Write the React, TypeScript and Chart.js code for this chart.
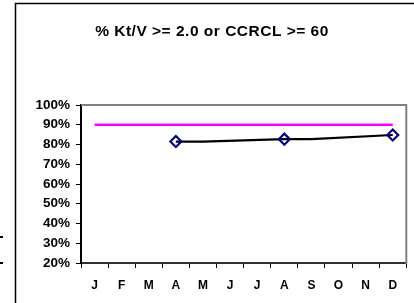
import React, { useEffect, useRef } from "react";
import { Chart, registerables } from "chart.js";

Chart.register(...registerables);

const TITLE = "% Kt/V >= 2.0 or CCRCL >= 60";
const MONTHS = ["J", "F", "M", "A", "M", "J", "J", "A", "S", "O", "N", "D"];
const TARGET = [90, 90, 90, 90, 90, 90, 90, 90, 90, 90, 90, 90];
const TREND = [null, null, null, 81.5, 81.5, null, null, 82.7, 82.7, null, null, 84.8];
const MEASURED = [null, null, null, 81.5, null, null, null, 82.7, null, null, null, 84.8];
const Y_MIN = 20;
const Y_MAX = 100;
const Y_STEP = 10;

const FONT = "Arial, 'Liberation Sans', sans-serif";

const decor = {
  id: "decor",
  afterDraw(chart: any) {
    const ctx = chart.ctx;
    const a = chart.chartArea;
    ctx.save();
    // plot frame top & right (gray)
    ctx.strokeStyle = "#808080";
    ctx.lineWidth = 2;
    ctx.beginPath();
    ctx.moveTo(a.left, a.top);
    ctx.lineTo(a.right, a.top);
    ctx.lineTo(a.right, a.bottom + 1);
    ctx.stroke();
    // outer chart border
    ctx.strokeStyle = "#000";
    ctx.lineWidth = 1.5;
    ctx.beginPath();
    ctx.moveTo(15.5, 303);
    ctx.lineTo(15.5, 3.5);
    ctx.lineTo(414, 3.5);
    ctx.stroke();
    // fragments at far left
    ctx.fillStyle = "#000";
    ctx.fillRect(0, 236, 3, 2);
    ctx.fillRect(0, 262, 3, 2);
    // title
    ctx.letterSpacing = "0.5px";
    ctx.font = "bold 15.5px " + FONT;
    ctx.textAlign = "center";
    ctx.textBaseline = "alphabetic";
    ctx.fillStyle = "#000";
    ctx.fillText(TITLE, 212, 35.5);
    ctx.restore();
  },
};

export default function App() {
  const ref = useRef<HTMLCanvasElement | null>(null);

  useEffect(() => {
    if (!ref.current) return;
    const chart = new Chart(ref.current, {
      type: "line",
      data: {
        labels: MONTHS,
        datasets: [
          {
            label: "Measured",
            data: MEASURED as any,
            showLine: false,
            pointStyle: "rectRot",
            pointRadius: 5.5,
            pointBorderColor: "#000080",
            pointBackgroundColor: "rgba(0,0,0,0)",
            pointBorderWidth: 2.2,
            borderColor: "#000080",
            clip: false as any,
          },
          {
            label: "Trend",
            data: TREND as any,
            spanGaps: true,
            borderColor: "#000",
            borderWidth: 2.2,
            pointRadius: 0,
            tension: 0,
            clip: false as any,
          },
          {
            label: "Target",
            data: TARGET,
            borderColor: "#FF00FF",
            borderWidth: 2.5,
            pointRadius: 0,
            tension: 0,
          },
        ],
      },
      options: {
        responsive: false,
        animation: false,
        events: [],
        layout: { padding: { left: 0, top: 105, right: 3, bottom: 0 } },
        plugins: {
          legend: { display: false },
          title: { display: false },
          tooltip: { enabled: false },
        },
        scales: {
          x: {
            type: "category",
            offset: true,
            grid: {
              offset: true,
              drawOnChartArea: false,
              drawTicks: true,
              tickLength: 5,
              color: "#000",
              lineWidth: 1,
            },
            border: { display: true, color: "#303030", width: 2 },
            ticks: {
              color: "#000",
              font: { family: FONT, size: 12, weight: "bold" },
              padding: 10,
              maxRotation: 0,
              autoSkip: false,
            },
            afterFit: (s: any) => {
              s.height = 40;
            },
          },
          y: {
            min: Y_MIN,
            max: Y_MAX,
            grid: {
              drawOnChartArea: false,
              drawTicks: true,
              tickLength: 5,
              color: "#000",
              lineWidth: 1,
            },
            border: { display: true, color: "#000", width: 2 },
            ticks: {
              stepSize: Y_STEP,
              autoSkip: false,
              color: "#000",
              font: { family: FONT, size: 13.5, weight: "bold" },
              padding: 6,
              callback: (v: any) => v + "%",
            },
            afterFit: (s: any) => {
              s.width = 81;
            },
          },
        },
      },
      plugins: [decor],
    });
    return () => chart.destroy();
  }, []);

  return (
    <div style={{ position: "absolute", left: 0, top: 0, width: 414, height: 303, background: "#fff" }}>
      <canvas ref={ref} width={414} height={303} style={{ display: "block" }} />
    </div>
  );
}
